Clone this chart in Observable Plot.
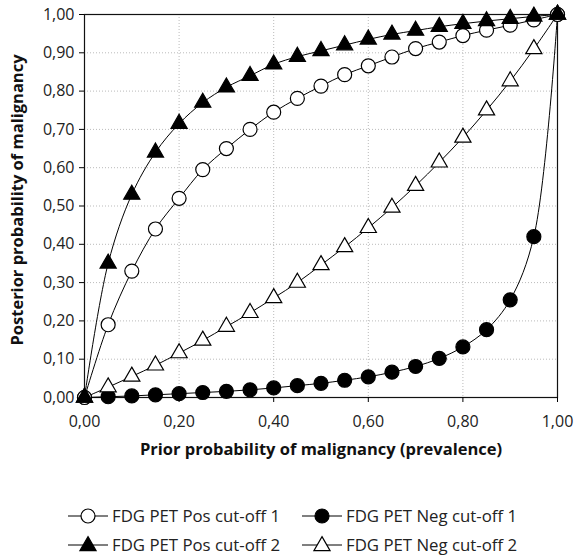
<!DOCTYPE html>
<html><head><meta charset="utf-8">
<script src="https://cdn.jsdelivr.net/npm/d3@7"></script>
<script src="https://cdn.jsdelivr.net/npm/@observablehq/plot@0.6"></script>
<style>
body{margin:0;background:#fff;font-family:"Open Sans","Noto Sans",sans-serif;}
#wrap{position:relative;width:581px;height:557px;}
#legend{position:absolute;left:0;top:505px;width:581px;font-size:16.8px;color:#222;}
.li{position:absolute;display:flex;align-items:center;white-space:nowrap;}
.li svg{margin-right:4px;}
</style></head>
<body><div id="wrap"><div id="chart"></div><div id="legend"></div></div>
<script>
const prior = [0,0.05,0.10,0.15,0.20,0.25,0.30,0.35,0.40,0.45,0.50,0.55,0.60,0.65,0.70,0.75,0.80,0.85,0.90,0.95,1.00];
const posCut1 = [0,0.19,0.33,0.44,0.52,0.595,0.65,0.70,0.745,0.781,0.813,0.843,0.866,0.889,0.911,0.928,0.945,0.959,0.972,0.986,1.0];
const negCut1 = [0,0.002,0.004,0.007,0.010,0.013,0.016,0.020,0.025,0.031,0.037,0.045,0.054,0.066,0.081,0.102,0.132,0.177,0.255,0.42,1.0];
const posCut2 = [0,0.35,0.53,0.64,0.715,0.77,0.81,0.84,0.87,0.89,0.905,0.92,0.935,0.948,0.958,0.968,0.976,0.983,0.989,0.995,1.0];
const negCut2 = [0,0.027,0.055,0.084,0.116,0.149,0.185,0.221,0.26,0.30,0.346,0.393,0.443,0.496,0.553,0.614,0.679,0.75,0.826,0.91,1.0];
const seriesNames = ["FDG PET Pos cut-off 1","FDG PET Neg cut-off 1","FDG PET Pos cut-off 2","FDG PET Neg cut-off 2"];
const seriesValues = [posCut1, negCut1, posCut2, negCut2];
const seriesSymbol = ["circle","circle","triangle","triangle"];
const seriesFill = ["white","black","black","white"];
const xTicks = [0,0.2,0.4,0.6,0.8,1.0];
const yTicks = [0,0.1,0.2,0.3,0.4,0.5,0.6,0.7,0.8,0.9,1.0];

const data = [];
seriesNames.forEach((s,i)=>prior.forEach((p,j)=>data.push({series:s,i,x:p,y:seriesValues[i][j]})));
const fmt = d => d3.format(".2f")(d).replace(".",",");

const marks = [
  Plot.gridY(yTicks,{stroke:"#bbb",strokeOpacity:1,strokeDasharray:"1,2"}),
  Plot.gridX(xTicks,{stroke:"#bbb",strokeOpacity:1,strokeDasharray:"1,2"}),
  Plot.frame({stroke:"#111",strokeWidth:1.2}),
  Plot.axisY(yTicks,{tickFormat:fmt,tickSize:5,tickPadding:5,fontSize:16,label:null,fill:"#222"}),
  Plot.axisX(xTicks,{tickFormat:fmt,tickSize:5,tickPadding:13,fontSize:16,label:null,fill:"#222"}),
  Plot.text(["Prior probability of malignancy (prevalence)"],{frameAnchor:"bottom",lineAnchor:"middle",dy:52,fontSize:16.5,fontWeight:"bold",fill:"#111"}),
  Plot.text(["Posterior probability of malignancy"],{frameAnchor:"left",textAnchor:"middle",dx:-67,dy:-6,rotate:-90,fontSize:16.5,fontWeight:"bold",fill:"#111"})
];
seriesNames.forEach((s,i)=>{
  const d = data.filter(r=>r.i===i);
  marks.push(Plot.line(d,{x:"x",y:"y",stroke:"black",strokeWidth:1,curve:"catmull-rom"}));
});
[1,0,3,2].forEach(i=>{
  const d = data.filter(r=>r.i===i);
  marks.push(Plot.dot(d,{x:"x",y:"y",symbol:()=>seriesSymbol[i],r:seriesSymbol[i]==="circle"?7:6,fill:seriesFill[i],stroke:"black",strokeWidth:1.2}));
});

const chart = Plot.plot({
  width:581,height:460,marginLeft:84,marginRight:24,marginTop:14,marginBottom:63,
  style:{fontFamily:"'Open Sans','Noto Sans',sans-serif",background:"white",overflow:"visible"},
  x:{domain:[0,1]},y:{domain:[0,1]},
  symbol:{type:"identity"},
  marks
});
document.getElementById("chart").appendChild(chart);

const legendPos = [[68,-1],[302,-1],[68,28],[302,28]];
const leg = document.getElementById("legend");
seriesNames.forEach((s,i)=>{
  const div = document.createElement("div");
  div.className="li";
  div.style.left=legendPos[i][0]+"px";div.style.top=legendPos[i][1]+"px";
  const sym = seriesSymbol[i]==="circle"
    ? `<circle cx="20" cy="10" r="7" fill="${seriesFill[i]}" stroke="black" stroke-width="1.2"/>`
    : `<path d="${d3.symbol(d3.symbolTriangle, Math.PI*36)()}" transform="translate(20,11)" fill="${seriesFill[i]}" stroke="black" stroke-width="1.2"/>`;
  div.innerHTML = `<svg width="40" height="20"><line x1="0" x2="40" y1="10" y2="10" stroke="black" stroke-width="1"/>${sym}</svg><span>${s}</span>`;
  leg.appendChild(div);
});
</script></body></html>
